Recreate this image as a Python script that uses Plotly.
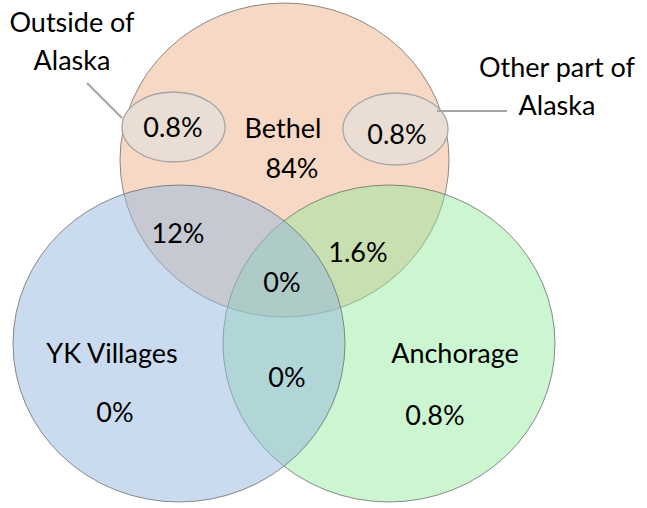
import plotly.graph_objects as go

# ---- data ----
set_names = ["Bethel", "YK Villages", "Anchorage"]
set_only_values = [84, 0, 0.8]             # Bethel only, YK only, Anchorage only
pair_names = ["Bethel & YK", "Bethel & Anchorage", "YK & Anchorage"]
pair_values = [12, 1.6, 0]
all_three_value = 0
callout_names = ["Outside of<br>Alaska", "Other part of<br>Alaska"]
callout_values = [0.8, 0.8]

def pct(v):
    return f"{v:g}%"

# ---- layout / geometry (pixel space, y down) ----
W, H = 647, 508
circles = {  # x0, y0, x1, y1
    "Bethel": (120, 3, 449, 317),
    "YK Villages": (13, 185, 345, 502),
    "Anchorage": (223, 185, 555, 502),
}
fills = {
    "Bethel": "rgba(240,178,138,0.5)",
    "YK Villages": "rgba(150,184,224,0.5)",
    "Anchorage": "rgba(142,232,152,0.45)",
}
draw_order = ["Bethel", "Anchorage", "YK Villages"]
small_ellipses = [(122, 92, 225, 162), (343, 93, 448, 165)]
callout_lines = [((87, 83), (122, 118)), ((437, 111), (507, 111))]

DY = 3
name_pos = [(283, 128), (112, 353), (455, 353)]
only_pos = [(292, 168), (115, 412), (435, 415)]
pair_pos = [(178, 233), (358, 252), (287, 377)]
center_pos = (282, 282)
callout_val_pos = [(173, 127), (397, 134)]
callout_lbl_pos = [(72, 22), (557, 67)]
LINE_GAP = 38

FONT = dict(family="Lato, Carlito, Calibri, sans-serif", size=27, color="black")

fig = go.Figure()

shapes = []
for k in draw_order:
    x0, y0, x1, y1 = circles[k]
    shapes.append(dict(type="circle", xref="x", yref="y", x0=x0, y0=y0, x1=x1, y1=y1,
                       fillcolor=fills[k], line=dict(color="rgba(110,110,110,0.8)", width=1),
                       layer="below"))
for (x0, y0, x1, y1) in small_ellipses:
    shapes.append(dict(type="circle", xref="x", yref="y", x0=x0, y0=y0, x1=x1, y1=y1,
                       fillcolor="rgba(234,221,212,1)", line=dict(color="#A6A6A6", width=1.3),
                       layer="below"))
for (a, b) in callout_lines:
    shapes.append(dict(type="line", xref="x", yref="y", x0=a[0], y0=a[1], x1=b[0], y1=b[1],
                       line=dict(color="#A6A6A6", width=2), layer="below"))

xs, ys, ts = [], [], []
for n, p in zip(set_names, name_pos):
    xs.append(p[0]); ys.append(p[1] + DY); ts.append(n)
for v, p in zip(set_only_values, only_pos):
    xs.append(p[0]); ys.append(p[1] + DY); ts.append(pct(v))
for v, p in zip(pair_values, pair_pos):
    xs.append(p[0]); ys.append(p[1] + DY); ts.append(pct(v))
xs.append(center_pos[0]); ys.append(center_pos[1] + DY); ts.append(pct(all_three_value))
for v, p in zip(callout_values, callout_val_pos):
    xs.append(p[0]); ys.append(p[1] + DY); ts.append(pct(v))
for n, p in zip(callout_names, callout_lbl_pos):
    for i, line in enumerate(n.split("<br>")):
        xs.append(p[0]); ys.append(p[1] + i * LINE_GAP + DY); ts.append(line)

fig.add_trace(go.Scatter(x=xs, y=ys, text=ts, mode="text", textposition="middle center",
                         textfont=FONT, hoverinfo="skip", showlegend=False))

fig.update_layout(
    width=W, height=H, margin=dict(l=0, r=0, t=0, b=0),
    paper_bgcolor="white", plot_bgcolor="white",
    shapes=shapes,
    xaxis=dict(range=[0, W], visible=False, fixedrange=True),
    yaxis=dict(range=[H, 0], visible=False, fixedrange=True),
)
fig.write_html("out.html", config={"displayModeBar": False},
               post_script="document.body.style.margin='0';")
